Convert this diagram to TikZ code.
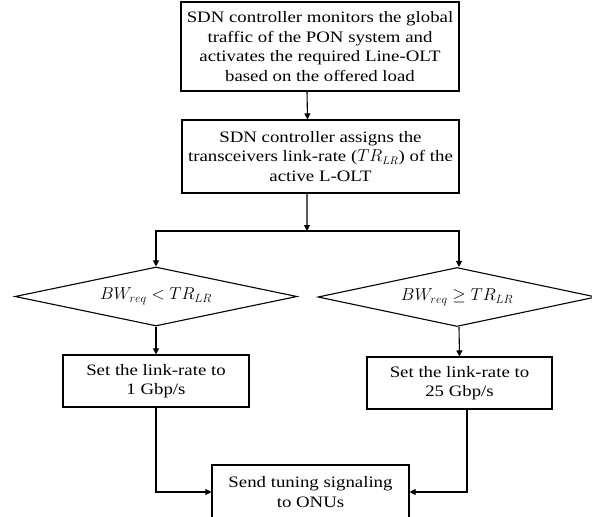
\documentclass[tikz,border=0pt]{standalone}
\usepackage{fontspec}
\setmainfont[FakeStretch=1.18]{Liberation Serif}
\usetikzlibrary{shapes.geometric,arrows.meta,calc}
\begin{document}
\begin{tikzpicture}[x=1bp,y=-1bp,
  every node/.style={font=\fontsize{16}{19.5}\selectfont},
  procbox/.style={draw,line width=1.1bp,align=center,inner sep=0pt},
  testbox/.style={draw,line width=1.1bp,shape=diamond,shape aspect=4.8,inner sep=0pt,
    font=\fontsize{17.5}{20}\selectfont},
  flow/.style={line width=1.1bp,-{Triangle[length=6bp,width=6bp]}},
  plain/.style={line width=1.1bp}]
\useasboundingbox (0,0) rectangle (592,517);
\clip (0,0) rectangle (592,517);
% process steps
\node[procbox,minimum width=278bp,minimum height=89bp] (monitor) at (320,46.5)
  {SDN controller monitors the global\\traffic of the PON system and\\activates the required Line-OLT\\based on the offered load};
\node[procbox,minimum width=277bp,minimum height=73bp] (assign) at (320.5,156.5)
  {SDN controller assigns the\\transceivers link-rate ($TR_{LR}$) of the\\active L-OLT};
\coordinate (split) at (307,231);
% decisions
\node[testbox,minimum width=282bp,minimum height=59bp] (low) at (156,296.5)
  {$BW_{req} < TR_{LR}$};
\node[testbox,minimum width=278bp,minimum height=59bp] (high) at (457,297)
  {$BW_{req} \geq TR_{LR}$};
% link-rate settings
\node[procbox,minimum width=186bp,minimum height=52bp] (one) at (156,381)
  {Set the link-rate to\\1 Gbp/s};
\node[procbox,minimum width=185bp,minimum height=52bp] (twentyfive) at (459.5,383)
  {Set the link-rate to\\25 Gbp/s};
% final step
\node[procbox,minimum width=197bp,minimum height=54bp] (signal) at (310.5,492)
  {Send tuning signaling\\to ONUs};
% connectors
\draw[flow] ([xshift=-13bp]monitor.south) -- ([xshift=-13bp]assign.north);
\draw[flow] ([xshift=-13.5bp]assign.south) -- (split);
\draw[flow] (split) -| (low.north);
\draw[flow] (split) -| ([xshift=2bp]high.north);
\draw[flow] (low.south) -- (one.north);
\draw[flow] ([xshift=2bp]high.south) -- (twentyfive.north);
\draw[flow] (one.south) |- (signal.west);
\draw[flow] ([xshift=7.5bp]twentyfive.south) |- (signal.east);
\end{tikzpicture}
\end{document}
